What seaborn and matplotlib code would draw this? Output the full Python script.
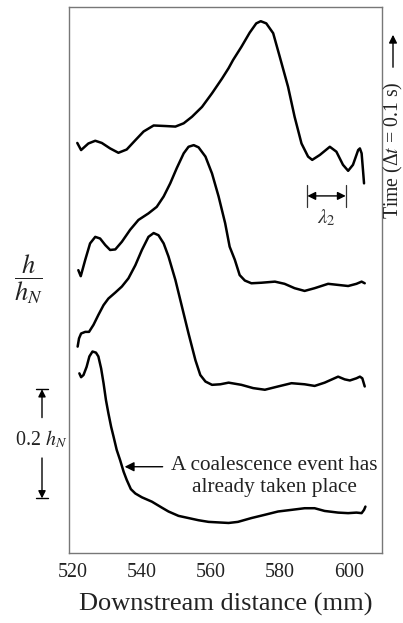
import matplotlib
matplotlib.use("Agg")
import matplotlib.pyplot as plt
import seaborn as sns
import numpy as np

# ---------------- data (downstream distance in mm, h/h_N with offsets) ----------------
x_t1 = [521.4, 522.5, 524.6, 526.6, 528.5, 530.9, 533.3, 535.7, 538.2, 540.6, 543.5, 546.9,
        549.8, 552.2, 554.6, 557.5, 560.4, 563.3, 565.2, 566.5, 568.9, 571.3, 573.2, 574.5,
        576.1, 578.1, 580.0, 582.4, 584.3, 586.3, 588.2, 589.4, 591.6, 594.5, 596.4, 598.3,
        599.8, 601.2, 602.7, 603.2, 603.7, 604.1, 604.4]
h_t1 = [0.751, 0.738, 0.750, 0.755, 0.751, 0.741, 0.733, 0.739, 0.756, 0.772, 0.783, 0.782,
        0.781, 0.787, 0.799, 0.817, 0.842, 0.869, 0.888, 0.903, 0.927, 0.953, 0.970, 0.974,
        0.970, 0.952, 0.909, 0.854, 0.799, 0.750, 0.726, 0.720, 0.729, 0.744, 0.735, 0.711,
        0.700, 0.711, 0.738, 0.741, 0.732, 0.701, 0.677]

x_t2 = [521.7, 522.4, 523.7, 525.1, 526.6, 528.0, 529.5, 530.9, 532.4, 534.3, 536.7, 539.1,
        542.0, 544.4, 546.4, 548.3, 550.2, 552.2, 553.6, 555.1, 556.5, 558.5, 560.4, 562.3,
        564.2, 565.5, 567.0, 568.4, 569.9, 571.8, 574.7, 578.6, 581.4, 584.3, 587.2, 590.1,
        594.0, 596.9, 599.8, 602.2, 603.7, 604.6]
h_t2 = [0.518, 0.507, 0.537, 0.567, 0.579, 0.576, 0.564, 0.555, 0.556, 0.570, 0.592, 0.610,
        0.622, 0.634, 0.653, 0.677, 0.705, 0.732, 0.744, 0.747, 0.743, 0.726, 0.695, 0.653,
        0.604, 0.561, 0.537, 0.509, 0.499, 0.494, 0.495, 0.497, 0.493, 0.485, 0.480, 0.485,
        0.493, 0.491, 0.489, 0.493, 0.497, 0.494]

x_t3 = [521.5, 521.9, 522.5, 523.7, 524.8, 526.1, 527.5, 529.0, 530.4, 532.4, 534.3, 536.2,
        538.2, 540.1, 542.0, 543.5, 544.9, 546.4, 547.8, 549.8, 551.7, 553.6, 555.6, 557.0,
        558.5, 560.4, 562.8, 565.2, 568.9, 572.3, 575.7, 579.5, 583.4, 587.2, 590.1, 593.0,
        596.9, 598.8, 600.3, 602.2, 603.2, 603.9, 604.6]
h_t3 = [0.378, 0.393, 0.402, 0.405, 0.405, 0.418, 0.436, 0.454, 0.466, 0.477, 0.488, 0.503,
        0.527, 0.555, 0.579, 0.586, 0.582, 0.567, 0.543, 0.500, 0.451, 0.402, 0.353, 0.326,
        0.314, 0.308, 0.309, 0.312, 0.308, 0.302, 0.299, 0.305, 0.311, 0.309, 0.306, 0.312,
        0.323, 0.318, 0.316, 0.320, 0.323, 0.320, 0.305]

x_t4 = [522.0, 522.5, 523.2, 524.1, 524.9, 525.8, 526.8, 527.5, 528.3, 529.0, 529.7, 530.4,
        531.2, 531.9, 532.8, 533.8, 534.8, 535.7, 536.9, 538.2, 540.1, 543.0, 545.9, 547.8,
        550.7, 553.6, 556.5, 559.4, 562.3, 565.2, 567.9, 571.8, 575.7, 579.5, 583.4, 587.2,
        590.1, 593.0, 596.9, 599.8, 602.2, 603.7, 604.4, 604.8]
h_t4 = [0.329, 0.322, 0.326, 0.341, 0.360, 0.369, 0.367, 0.360, 0.338, 0.311, 0.280, 0.256,
        0.231, 0.213, 0.189, 0.170, 0.149, 0.134, 0.117, 0.109, 0.102, 0.094, 0.083, 0.076,
        0.068, 0.064, 0.060, 0.057, 0.056, 0.055, 0.057, 0.064, 0.070, 0.076, 0.079, 0.082,
        0.082, 0.077, 0.074, 0.073, 0.074, 0.073, 0.079, 0.085]

x_ticks = [520, 540, 560, 580, 600]
x_minor = [530, 550, 570, 590]
y_ticks = [0.1, 0.2, 0.3, 0.4, 0.5, 0.6, 0.7, 0.8, 0.9]

# ---------------- style ----------------
sns.set_style("white")
plt.rcParams["font.family"] = ["Liberation Serif", "DejaVu Serif"]
plt.rcParams["mathtext.fontset"] = "stix"

fig = plt.figure(figsize=(4.03, 6.23), dpi=100)
ax = fig.add_axes([69 / 403, 1 - 553 / 623, 313 / 403, 546 / 623])

for xs, hs in [(x_t1, h_t1), (x_t2, h_t2), (x_t3, h_t3), (x_t4, h_t4)]:
    sns.lineplot(x=xs, y=hs, ax=ax, color="black", linewidth=1.8, sort=False,
                 estimator=None, solid_joinstyle="round", solid_capstyle="round")

ax.set_xlim(519, 609.6)
ax.set_ylim(0, 1.0)
ax.set_xticks(x_ticks)
ax.set_xticks(x_minor, minor=True)
ax.set_yticks(y_ticks)
ax.set_yticklabels([])
ax.tick_params(axis="x", which="both", direction="in", length=4, width=0.8,
               colors="#777777", labelcolor="#222222", labelsize=14.4, pad=7)
ax.tick_params(axis="y", which="both", direction="in", length=4, width=0.8,
               colors="#999999")
for s in ax.spines.values():
    s.set_color("#777777")
    s.set_linewidth(1.0)
ax.set_xlabel("Downstream distance (mm)", fontsize=19, color="#222222", labelpad=8)
ax.set_ylabel("")

# coalescence annotation
ax.annotate("", xy=(535.1, 0.158), xytext=(546.1, 0.158),
            arrowprops=dict(arrowstyle="-|>", color="black", lw=1.0,
                            mutation_scale=14, shrinkA=0, shrinkB=0))
ax.text(578.4, 0.140, "A coalescence event has\nalready taken place", ha="center",
        va="center", fontsize=15.3, color="#222222")

# lambda_2 annotation
ax.annotate("", xy=(588.0, 0.654), xytext=(599.1, 0.654),
            arrowprops=dict(arrowstyle="<|-|>", color="black", lw=1.0,
                            mutation_scale=12, shrinkA=0, shrinkB=0))
for xb in (588.0, 599.1):
    ax.plot([xb, xb], [0.634, 0.674], color="#333333", lw=0.9)
ax.text(593.6, 0.614, r"$\lambda_2$", ha="center", va="center", fontsize=15,
        color="#333333")

# scale bar 0.2 h_N on the left (blended: x axes fraction, y data)
tr = ax.get_yaxis_transform()
xa = (42 - 69) / 313
ax.annotate("", xy=(xa, 0.30), xytext=(xa, 0.248), xycoords=tr, textcoords=tr,
            arrowprops=dict(arrowstyle="-|>", color="black", lw=1.0,
                            mutation_scale=11, shrinkA=0, shrinkB=0),
            annotation_clip=False)
ax.annotate("", xy=(xa, 0.10), xytext=(xa, 0.174), xycoords=tr, textcoords=tr,
            arrowprops=dict(arrowstyle="-|>", color="black", lw=1.0,
                            mutation_scale=11, shrinkA=0, shrinkB=0),
            annotation_clip=False)
for yb in (0.30, 0.10):
    ax.plot([(36 - 69) / 313, (48 - 69) / 313], [yb, yb], color="black", lw=1.0,
            transform=tr, clip_on=False)
ax.text((41 - 69) / 313, 0.208, r"0.2 $h_N$", transform=tr, ha="center", va="center",
        fontsize=14.4, color="#222222")

# h / h_N label
fig.text(28 / 403, 1 - 279 / 623, r"$\dfrac{h}{h_N}$", ha="center", va="center",
         fontsize=19, color="#222222")

# Time label on the right
fig.text(393 / 403, 1 - 150 / 623, "Time (Δ$t$ = 0.1 s)", rotation=90, ha="center",
         va="center", fontsize=14.2, color="#222222")
fig.patches.append(matplotlib.patches.FancyArrowPatch(
    (393 / 403, 1 - 70 / 623), (393 / 403, 1 - 32 / 623), transform=fig.transFigure,
    arrowstyle="-|>", mutation_scale=12, color="black", lw=1.0))

fig.savefig("out.png", dpi=100)
